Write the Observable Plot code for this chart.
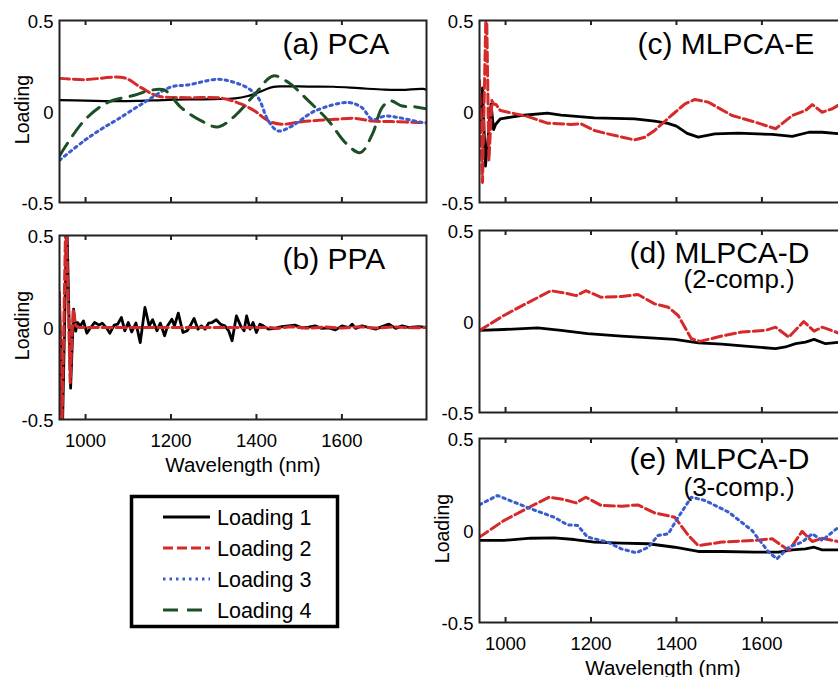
<!DOCTYPE html>
<html><head><meta charset="utf-8">
<script src="https://cdn.jsdelivr.net/npm/d3@7"></script>
<script src="https://cdn.jsdelivr.net/npm/@observablehq/plot@0.6"></script>
<style>
body{margin:0;background:#fff;}
#fig{position:relative;width:838px;height:677px;overflow:hidden;background:#fff;font-family:"Liberation Sans",Arial,sans-serif;}
.panel{position:absolute;}
</style></head><body><div id="fig"></div>
<script>
// ---- labels / ticks ----
const wlTicks = [1000, 1200, 1400, 1600];
const yTicks = [-0.5, 0, 0.5];
const legendLabels = ["Loading 1", "Loading 2", "Loading 3", "Loading 4"];
const panelTitles = ["(a) PCA", "(b) PPA", "(c) MLPCA-E", "(d) MLPCA-D", "(e) MLPCA-D"];
const subTitles = ["(2-comp.)", "(3-comp.)"];
const xAxisLabel = "Wavelength (nm)";
const yAxisLabel = "Loading";

// ---- (a) PCA ----
const pcaWl1 = [939, 1000, 1060, 1120, 1180, 1240, 1300, 1350, 1380, 1400, 1420, 1440, 1460, 1520, 1580, 1640, 1700, 1740, 1790, 1798];
const pcaL1 = [0.062, 0.06, 0.057, 0.058, 0.063, 0.066, 0.068, 0.072, 0.085, 0.1, 0.12, 0.135, 0.138, 0.137, 0.136, 0.128, 0.12, 0.119, 0.124, 0.118];
const pcaWl2 = [939, 996, 1090, 1130, 1169, 1239, 1318, 1365, 1396, 1428, 1459, 1506, 1585, 1632, 1671, 1726, 1788, 1798];
const pcaL2 = [0.182, 0.175, 0.185, 0.131, 0.085, 0.076, 0.073, 0.04, 0.003, -0.052, -0.07, -0.056, -0.043, -0.038, -0.052, -0.056, -0.061, -0.06];
const pcaWl3 = [939, 996, 1036, 1075, 1137, 1200, 1239, 1310, 1349, 1381, 1404, 1428, 1451, 1483, 1537, 1616, 1647, 1671, 1702, 1734, 1788, 1798];
const pcaL3 = [-0.268, -0.162, -0.098, -0.043, 0.049, 0.135, 0.146, 0.177, 0.159, 0.127, 0.076, -0.052, -0.107, -0.08, 0.003, 0.049, 0.021, -0.043, -0.025, -0.034, -0.061, -0.065];
const pcaWl4 = [939, 996, 1051, 1114, 1153, 1185, 1224, 1271, 1310, 1349, 1396, 1439, 1475, 1522, 1569, 1608, 1643, 1671, 1694, 1714, 1741, 1773, 1798];
const pcaL4 = [-0.244, -0.052, 0.049, 0.089, 0.117, 0.117, 0.021, -0.052, -0.085, -0.025, 0.094, 0.195, 0.159, 0.058, -0.052, -0.171, -0.226, -0.126, 0.021, 0.058, 0.03, 0.025, 0.015];

// ---- (b) PPA ----
const ppaWl1 = [939, 946, 956, 965, 972, 977, 981, 988, 995, 1003, 1012, 1021, 1032, 1039, 1050, 1057, 1067, 1075, 1084, 1092, 1100, 1108, 1118, 1128, 1139, 1149, 1157, 1167, 1175, 1185, 1192, 1202, 1208, 1217, 1228, 1238, 1247, 1254, 1263, 1271, 1280, 1288, 1296, 1306, 1316, 1326, 1335, 1343, 1353, 1363, 1371, 1377, 1385, 1392, 1400, 1408, 1416, 1428, 1443, 1459, 1475, 1490, 1506, 1522, 1537, 1553, 1569, 1585, 1600, 1616, 1624, 1632, 1647, 1663, 1679, 1694, 1710, 1726, 1741, 1757, 1781, 1798];
const ppaL1 = [0.15, -0.55, 0.6, -0.33, 0.1, -0.02, 0.027, 0.009, 0.036, -0.031, 0, 0.027, 0.013, 0.024, -0.005, -0.031, 0.013, 0.018, 0.054, -0.018, 0.027, -0.024, 0.024, -0.082, 0.109, 0.009, 0.042, -0.018, 0.024, -0.045, 0.009, 0.045, 0.009, 0.078, -0.027, -0.018, 0.018, 0.049, -0.009, 0.009, -0.009, 0.024, 0.027, 0.042, 0.018, 0.009, -0.018, -0.072, 0.063, 0.009, -0.018, 0.063, -0.009, 0.027, -0.027, 0.018, 0.009, -0.009, -0.005, 0.005, 0.009, 0.013, -0.002, 0.002, 0.009, -0.005, -0.002, -0.013, 0.009, 0, 0.018, -0.005, 0.009, 0, -0.009, 0.005, 0.018, -0.005, 0.009, 0, 0.005, 0];
const ppaWl2 = [939, 944, 954, 964, 971, 977, 985, 1050, 1150, 1250, 1350, 1430, 1450, 1480, 1520, 1560, 1600, 1640, 1680, 1720, 1760, 1798];
const ppaL2 = [0.19, -0.65, 0.65, -0.3, 0.1, 0.01, 0, 0, 0, 0, 0, 0, -0.005, 0.004, -0.004, 0.003, -0.003, 0.004, -0.003, 0.003, -0.002, 0];

// ---- (c) MLPCA-E ----
const mlpcaEWl1 = [939, 946, 953, 960, 966, 972, 977, 988, 1036, 1098, 1130, 1208, 1302, 1349, 1380, 1400, 1425, 1451, 1490, 1545, 1624, 1671, 1710, 1741, 1784, 1798];
const mlpcaEL1 = [-0.12, 0.13, -0.3, -0.12, 0.04, -0.1, -0.07, -0.04, -0.022, -0.009, -0.02, -0.035, -0.04, -0.053, -0.065, -0.08, -0.12, -0.141, -0.123, -0.119, -0.126, -0.137, -0.114, -0.114, -0.123, -0.125];
const mlpcaEWl2 = [939, 946, 955, 961, 968, 972, 977, 988, 1051, 1098, 1153, 1176, 1208, 1239, 1302, 1326, 1349, 1388, 1420, 1443, 1475, 1530, 1585, 1632, 1671, 1702, 1718, 1741, 1765, 1784, 1798];
const mlpcaEL2 = [0.17, -0.39, 0.65, -0.27, 0.06, 0.04, 0.04, 0.005, -0.027, -0.064, -0.071, -0.067, -0.104, -0.123, -0.156, -0.141, -0.104, -0.022, 0.042, 0.066, 0.051, -0.022, -0.059, -0.095, -0.022, 0.005, 0.038, -0.004, 0.015, 0.042, 0.05];

// ---- (d) MLPCA-D (2-comp.) ----
const mlpcaD2Wl1 = [939, 996, 1075, 1130, 1192, 1271, 1349, 1396, 1451, 1506, 1561, 1632, 1655, 1679, 1702, 1722, 1749, 1784, 1798];
const mlpcaD2L1 = [-0.049, -0.044, -0.035, -0.049, -0.067, -0.08, -0.091, -0.098, -0.118, -0.124, -0.135, -0.149, -0.14, -0.122, -0.113, -0.098, -0.122, -0.113, -0.115];
const mlpcaD2Wl2 = [939, 996, 1051, 1106, 1137, 1165, 1188, 1224, 1271, 1310, 1349, 1381, 1404, 1435, 1455, 1506, 1553, 1608, 1632, 1663, 1698, 1722, 1741, 1784, 1798];
const mlpcaD2L2 = [-0.049, 0.033, 0.102, 0.169, 0.157, 0.142, 0.169, 0.133, 0.137, 0.148, 0.097, 0.078, 0.033, -0.095, -0.109, -0.08, -0.058, -0.049, -0.031, -0.086, 0.0, -0.053, -0.031, -0.067, -0.075];

// ---- (e) MLPCA-D (3-comp.) ----
const mlpcaD3Wl1 = [939, 996, 1059, 1114, 1161, 1208, 1271, 1334, 1396, 1451, 1506, 1585, 1639, 1671, 1702, 1722, 1741, 1784, 1798];
const mlpcaD3L1 = [-0.054, -0.054, -0.042, -0.04, -0.049, -0.063, -0.069, -0.072, -0.091, -0.114, -0.114, -0.118, -0.118, -0.105, -0.1, -0.091, -0.105, -0.105, -0.106];
const mlpcaD3Wl2 = [939, 996, 1051, 1102, 1137, 1165, 1188, 1224, 1271, 1310, 1349, 1396, 1428, 1451, 1506, 1585, 1624, 1663, 1694, 1718, 1741, 1784, 1798];
const mlpcaD3L2 = [-0.036, 0.054, 0.121, 0.181, 0.168, 0.15, 0.181, 0.136, 0.132, 0.139, 0.096, 0.072, -0.027, -0.082, -0.063, -0.054, -0.045, -0.109, -0.005, -0.06, -0.042, -0.063, -0.07];
const mlpcaD3Wl3 = [939, 981, 1020, 1059, 1114, 1145, 1169, 1192, 1239, 1271, 1306, 1334, 1357, 1381, 1404, 1435, 1467, 1522, 1577, 1616, 1635, 1663, 1694, 1718, 1741, 1765, 1784, 1798];
const mlpcaD3L3 = [0.14, 0.19, 0.154, 0.118, 0.072, 0.031, 0.027, -0.036, -0.063, -0.1, -0.121, -0.091, -0.027, -0.018, 0.072, 0.181, 0.163, 0.1, 0, -0.118, -0.154, -0.091, -0.063, -0.018, -0.054, -0.009, 0.027, 0.04];

// ---- rendering ----
const FONT = "'Liberation Sans', Arial, Helvetica, sans-serif";
const xDomain = [939, 1798];
const yDomain = [-0.5, 0.5];
const lineStyles = {
  l1: {stroke: "#000", strokeWidth: 2.8},
  l2: {stroke: "#d62a2a", strokeWidth: 3, strokeDasharray: "10,4"},
  l3: {stroke: "#3a5ccc", strokeWidth: 3, strokeDasharray: "2.5,4"},
  l4: {stroke: "#1c4f25", strokeWidth: 3, strokeDasharray: "15,9"}
};
const rows = (w, v) => d3.zip(w, v).map(([x, y]) => ({x, y}));
const fig = document.getElementById("fig");

function panel(o) {
  const width = 440, ml = 59, mr = 14;
  const height = o.mt + o.fh + o.mb;
  const marks = [];
  for (const s of o.series) {
    marks.push(Plot.line(rows(s.w, s.v), {x: "x", y: "y", clip: true, curve: o.curve || "linear", strokeLinejoin: "round", ...lineStyles[s.k], ...(s.extra || {})}));
  }
  marks.push(Plot.frame({stroke: "#222", strokeWidth: 2}));
  marks.push(Plot.tickX(wlTicks, {x: d => d, insetTop: o.fh - 5, stroke: "#222", strokeWidth: 2}));
  marks.push(Plot.tickX(wlTicks, {x: d => d, insetBottom: o.fh - 5, stroke: "#222", strokeWidth: 2}));
  marks.push(Plot.axisY(yTicks, {tickSize: 0, tickPadding: 6, tickFormat: d => String(d), fontSize: 18.5, dy: 2, label: null}));
  if (o.xLabels) {
    marks.push(Plot.axisX(wlTicks, {tickSize: 0, tickPadding: 14, tickFormat: d => String(d), fontSize: 18.5, label: null}));
    marks.push(Plot.text([xAxisLabel], {text: d => d, frameAnchor: "bottom", textAnchor: "middle", lineAnchor: "middle", dy: 46, fontSize: 20.5}));
  }
  if (o.yLabel) {
    marks.push(Plot.text([yAxisLabel], {text: d => d, frameAnchor: "left", textAnchor: "middle", lineAnchor: "middle", dx: -37, dy: -2, rotate: -90, fontSize: 19.5}));
  }
  marks.push(Plot.text([o.title], {text: d => d, frameAnchor: "top-left", textAnchor: "start", lineAnchor: "bottom", dx: o.tdx, dy: o.tdy, fontSize: 30}));
  if (o.sub) {
    marks.push(Plot.text([o.sub], {text: d => d, frameAnchor: "top-left", textAnchor: "start", lineAnchor: "bottom", dx: o.sdx, dy: o.sdy, fontSize: 26}));
  }
  const chart = Plot.plot({
    width, height,
    marginLeft: ml, marginRight: mr, marginTop: o.mt, marginBottom: o.mb,
    x: {domain: xDomain, axis: null},
    y: {domain: yDomain, axis: null},
    style: {fontFamily: FONT, fontSize: "18px", background: "transparent", maxWidth: "none", overflow: "visible", color: "#000"},
    marks
  });
  const div = document.createElement("div");
  div.className = "panel";
  div.style.left = o.left + "px";
  div.style.top = o.top + "px";
  div.style.width = width + "px";
  div.style.height = height + "px";
  div.appendChild(chart);
  fig.appendChild(div);
}

panel({left: 0, top: 0, mt: 20, fh: 182, mb: 10, curve: "catmull-rom", yLabel: true,
  title: panelTitles[0], tdx: 223, tdy: 33,
  series: [
    {k: "l1", w: pcaWl1, v: pcaL1, extra: {strokeWidth: 2.2}},
    {k: "l2", w: pcaWl2, v: pcaL2},
    {k: "l3", w: pcaWl3, v: pcaL3},
    {k: "l4", w: pcaWl4, v: pcaL4}
  ]});
panel({left: 0, top: 215, mt: 20, fh: 184, mb: 66, yLabel: true, xLabels: true,
  title: panelTitles[1], tdx: 223, tdy: 33,
  series: [
    {k: "l1", w: ppaWl1, v: ppaL1},
    {k: "l2", w: ppaWl2, v: ppaL2}
  ]});
panel({left: 420, top: 0, mt: 20, fh: 182, mb: 10,
  title: panelTitles[2], tdx: 158, tdy: 33,
  series: [
    {k: "l1", w: mlpcaEWl1, v: mlpcaEL1},
    {k: "l2", w: mlpcaEWl2, v: mlpcaEL2}
  ]});
panel({left: 420, top: 210, mt: 20, fh: 182, mb: 10,
  title: panelTitles[3], tdx: 150, tdy: 32, sub: subTitles[0], sdx: 204, sdy: 57,
  series: [
    {k: "l1", w: mlpcaD2Wl1, v: mlpcaD2L1},
    {k: "l2", w: mlpcaD2Wl2, v: mlpcaD2L2}
  ]});
panel({left: 420, top: 418, mt: 20, fh: 184, mb: 60, yLabel: true, xLabels: true,
  title: panelTitles[4], tdx: 150, tdy: 30, sub: subTitles[1], sdx: 204, sdy: 57,
  series: [
    {k: "l1", w: mlpcaD3Wl1, v: mlpcaD3L1},
    {k: "l2", w: mlpcaD3Wl2, v: mlpcaD3L2},
    {k: "l3", w: mlpcaD3Wl3, v: mlpcaD3L3}
  ]});

// ---- legend ----
const legKeys = ["l1", "l2", "l3", "l4"];
const leg = d3.select(fig).append("svg")
  .attr("width", 212).attr("height", 136)
  .style("position", "absolute").style("left", "129px").style("top", "494px");
leg.append("rect").attr("x", 2.5).attr("y", 2.5).attr("width", 206).attr("height", 130)
  .attr("fill", "#fff").attr("stroke", "#000").attr("stroke-width", 3.5);
const rowY = [23, 54, 85, 116];
legendLabels.forEach((lab, i) => {
  const st = lineStyles[legKeys[i]];
  leg.append("line").attr("x1", 34).attr("x2", 81).attr("y1", rowY[i]).attr("y2", rowY[i])
    .attr("stroke", st.stroke).attr("stroke-width", st.strokeWidth)
    .attr("stroke-dasharray", st.strokeDasharray || null);
  leg.append("text").attr("x", 88).attr("y", rowY[i] + 7.5).text(lab)
    .attr("font-family", FONT).attr("font-size", 21.5).attr("fill", "#000");
});
</script></body></html>
